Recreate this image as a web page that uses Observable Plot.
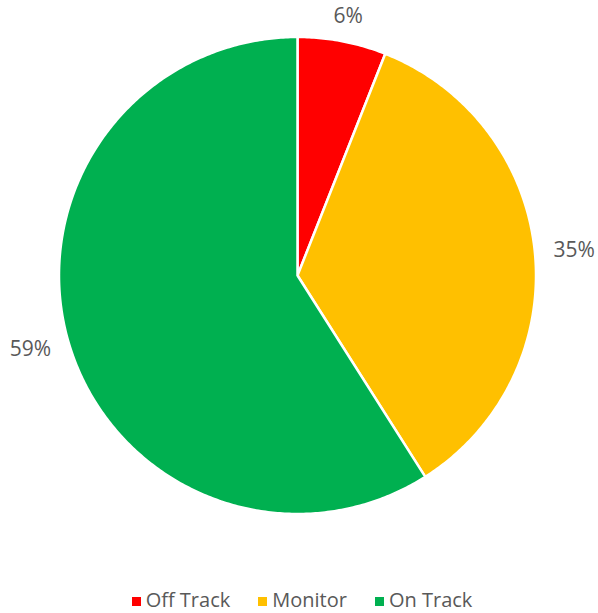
<!DOCTYPE html>
<html>
<head>
<meta charset="utf-8">
<script src="https://cdn.jsdelivr.net/npm/d3@7"></script>
<script src="https://cdn.jsdelivr.net/npm/@observablehq/plot@0.6"></script>
<style>
  html, body { margin: 0; padding: 0; background: #fff; }
  #chart svg { display: block; }
  .legend { display: flex; justify-content: center; align-items: center; height: 20px; line-height: 20px; font-family: "Open Sans", "Noto Sans", sans-serif; font-size: 20px; color: #595959; padding-left: 6px; }
  .legend .item { display: flex; align-items: center; margin: 0 14px; }
  .legend .sw { width: 9px; height: 9px; margin-right: 5px; margin-top: 3px; }
</style>
</head>
<body>
<div id="chart"></div>
<script>
const categories = ["Off Track", "Monitor", "On Track"];
const values = [6, 35, 59];
const labels = ["6%", "35%", "59%"];
const colors = ["#FF0000", "#FFC000", "#00B050"];

const W = 598, H = 590;
const cx = 297, cy = 275, R = 238.5;

// pie angles (clockwise from top)
const arcs = d3.pie().sort(null).value(d => d)(values);

const poly = [];
arcs.forEach((a, i) => {
  const steps = Math.max(4, Math.ceil((a.endAngle - a.startAngle) / 0.01));
  poly.push({cat: categories[i], x: 0, y: 0, k: 0});
  for (let s = 0; s <= steps; s++) {
    const t = a.startAngle + (a.endAngle - a.startAngle) * s / steps;
    poly.push({cat: categories[i], x: Math.sin(t), y: Math.cos(t), k: s + 1});
  }
  poly.push({cat: categories[i], x: 0, y: 0, k: steps + 2});
});

// label positions: outside end, offset by half text box
const lab = arcs.map((a, i) => {
  const m = (a.startAngle + a.endAngle) / 2;
  const ux = Math.sin(m), uy = Math.cos(m);
  const rr = 254 / R;
  const hw = (labels[i].length * 16 / 2) / R, hh = 10 / R;
  return {label: labels[i], x: rr * ux + hw * ux, y: rr * uy + hh * uy};
});

const chart = Plot.plot({
  width: W, height: H,
  margin: 0,
  x: {domain: [-cx / R, (W - cx) / R], range: [0, W], axis: null},
  y: {domain: [-(H - cy) / R, cy / R], range: [H, 0], axis: null},
  color: {domain: categories, range: colors},
  marks: [
    Plot.line(poly, {x: "x", y: "y", z: "cat", fill: "cat", stroke: "white", strokeWidth: 2.5, strokeLinejoin: "round", curve: "linear"}),
    Plot.text(lab, {x: "x", y: "y", text: "label", fill: "#595959", fontSize: 21, fontFamily: "Open Sans, Noto Sans, sans-serif"})
  ]
});
document.getElementById("chart").appendChild(chart);

const leg = document.createElement("div");
leg.className = "legend";
categories.forEach((c, i) => {
  const it = document.createElement("div");
  it.className = "item";
  const sw = document.createElement("span");
  sw.className = "sw";
  sw.style.background = colors[i];
  const tx = document.createElement("span");
  tx.textContent = c;
  it.appendChild(sw); it.appendChild(tx);
  leg.appendChild(it);
});
document.body.appendChild(leg);
</script>
</body>
</html>
